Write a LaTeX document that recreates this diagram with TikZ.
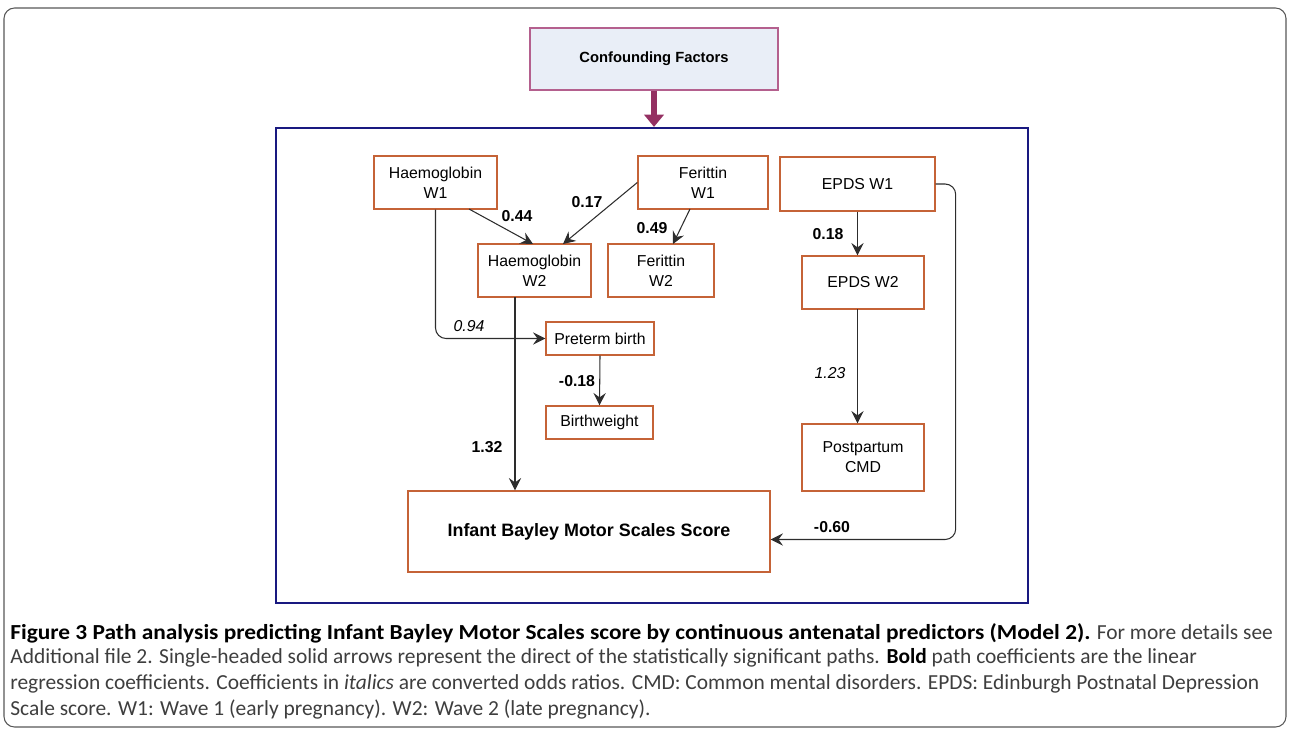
\documentclass[tikz,border=0pt]{standalone}
\usepackage{fontspec}
\setmainfont{Liberation Sans}
\newfontfamily\capfont{Carlito}
\usepackage{tikz}
\usetikzlibrary{shapes,arrows,arrows.meta}

\definecolor{boxorange}{RGB}{197,99,55}
\definecolor{framenavy}{RGB}{25,25,128}
\definecolor{confpink}{RGB}{180,96,142}
\definecolor{conffill}{RGB}{233,238,247}
\definecolor{confarrow}{RGB}{148,48,98}
\definecolor{linegray}{RGB}{45,45,45}
\definecolor{capgray}{RGB}{62,62,62}

\begin{document}
\begin{tikzpicture}[x=0.02cm,y=-0.02cm]
	\tikzstyle{var}=[rectangle,draw=boxorange,line width=0.8pt,inner sep=0pt,
	align=center,font=\fontsize{9}{11.3}\selectfont]
	\tikzstyle{coef}=[inner sep=0pt,font=\fontsize{9}{11}\selectfont\bfseries]
	\tikzstyle{odds}=[inner sep=0pt,font=\fontsize{9}{11}\selectfont\itshape]
	\tikzstyle{capline}=[anchor=west,inner sep=0pt,text=capgray,
	font=\capfont\fontsize{12.2}{14}\selectfont]

	\useasboundingbox (0,0) rectangle (1290,730);
	\draw[linegray!80,line width=0.6pt,rounded corners=6pt] (4,8) rectangle (1286,727);

	\node[rectangle,draw=confpink,fill=conffill,line width=0.8pt,minimum width=4.96cm,
	minimum height=1.24cm,font=\fontsize{8.4}{10}\selectfont\bfseries] (conf) at (654,59) {Confounding Factors};
	\node[rectangle,draw=framenavy,line width=1.3pt,minimum width=15.04cm,
	minimum height=9.5cm] (frame) at (652,365.5) {};

	\node[var,minimum width=2.46cm,minimum height=1.06cm] (hb1) at (435.5,182.5) {Haemoglobin\\W1};
	\node[var,minimum width=2.60cm,minimum height=1.06cm] (fer1) at (703,182.5) {Ferittin\\W1};
	\node[var,minimum width=3.10cm,minimum height=1.08cm] (ep1) at (857.5,184) {EPDS W1};
	\node[var,minimum width=2.26cm,minimum height=1.06cm] (hb2) at (534.5,270.5) {Haemoglobin\\W2};
	\node[var,minimum width=2.12cm,minimum height=1.06cm] (fer2) at (661,270.5) {Ferittin\\W2};
	\node[var,minimum width=2.44cm,minimum height=1.06cm] (ep2) at (863,282.5) {EPDS W2};
	\node[var,minimum width=2.16cm,minimum height=0.66cm] (pre) at (600,338.5) {Preterm birth};
	\node[var,minimum width=2.14cm,minimum height=0.66cm] (bw) at (599.5,422.5) {Birthweight};
	\node[var,minimum width=2.44cm,minimum height=1.34cm] (pp) at (863,457.5) {Postpartum\\CMD};
	\node[var,minimum width=7.24cm,minimum height=1.62cm,
	font=\fontsize{10.2}{12}\selectfont\bfseries] (inf) at (589,531.5) {Infant Bayley Motor Scales Score};

	\coordinate (hb1out) at (469,209);
	\coordinate (hb2out) at (515,297);
	\coordinate (hb2inl) at (533,244);
	\coordinate (hb2inr) at (563,244);
	\coordinate (fer1out) at (690,209);
	\coordinate (fer2in) at (673,244);
	\coordinate (epsplit) at (857.5,309);

	\tikzstyle{suite}=[-{Stealth[length=7pt,width=7pt,inset=2.5pt]},draw=linegray,
	line width=0.6pt,rounded corners=6pt]
	\tikzstyle{push}=[-{Triangle[width=11pt,length=7pt]},draw=confarrow,line width=3pt]

	\draw[push] (conf.south) -- (conf.south |- frame.north);
	\draw[suite] (hb1out) -- (hb2inl);
	\draw[suite] (fer1.west) -- (hb2inr);
	\draw[suite] (fer1out) -- (fer2in);
	\draw[suite] (hb1.south) |- (pre.west);
	\draw[suite] (hb2out) -- (hb2out |- inf.north);
	\draw[suite] (pre.south) -- (bw.north);
	\draw[suite] (ep1.south) -- (ep1.south |- ep2.north);
	\draw[suite] (epsplit) -- (epsplit |- pp.north);
	\draw[suite] (ep1.east) -- ++(20,0) |- ([yshift=-0.16cm]inf.east);

	\node[coef] (c044) at (517,216) {0.44};
	\node[coef] (c017) at (587,202) {0.17};
	\node[coef] (c049) at (652,228) {0.49};
	\node[odds] (c094) at (469,326) {0.94};
	\node[coef] (c132) at (487,447) {1.32};
	\node[coef] (c018m) at (577,381) {-0.18};
	\node[coef] (c018) at (828,234) {0.18};
	\node[odds] (c123) at (830,373) {1.23};
	\node[coef] (c060) at (832,527) {-0.60};

	\node[capline] (cap1) at (10,633) {{\color{black}\bfseries\addfontfeature{FakeStretch=1.09}Figure 3 Path analysis predicting Infant Bayley Motor Scales score by continuous antenatal predictors (Model 2).} For more details see};
	\node[capline] (cap2) at (10,658) {Additional file 2. Single-headed solid arrows represent the direct of the statistically significant paths. {\color{black}\bfseries Bold} path coefficients are the linear};
	\node[capline] (cap3) at (10,684) {regression coefficients. Coefficients in \textit{italics} are converted odds ratios. CMD: Common mental disorders. EPDS: Edinburgh Postnatal Depression};
	\node[capline] (cap4) at (10,709) {Scale score. W1: Wave 1 (early pregnancy). W2: Wave 2 (late pregnancy).};
\end{tikzpicture}
\end{document}
